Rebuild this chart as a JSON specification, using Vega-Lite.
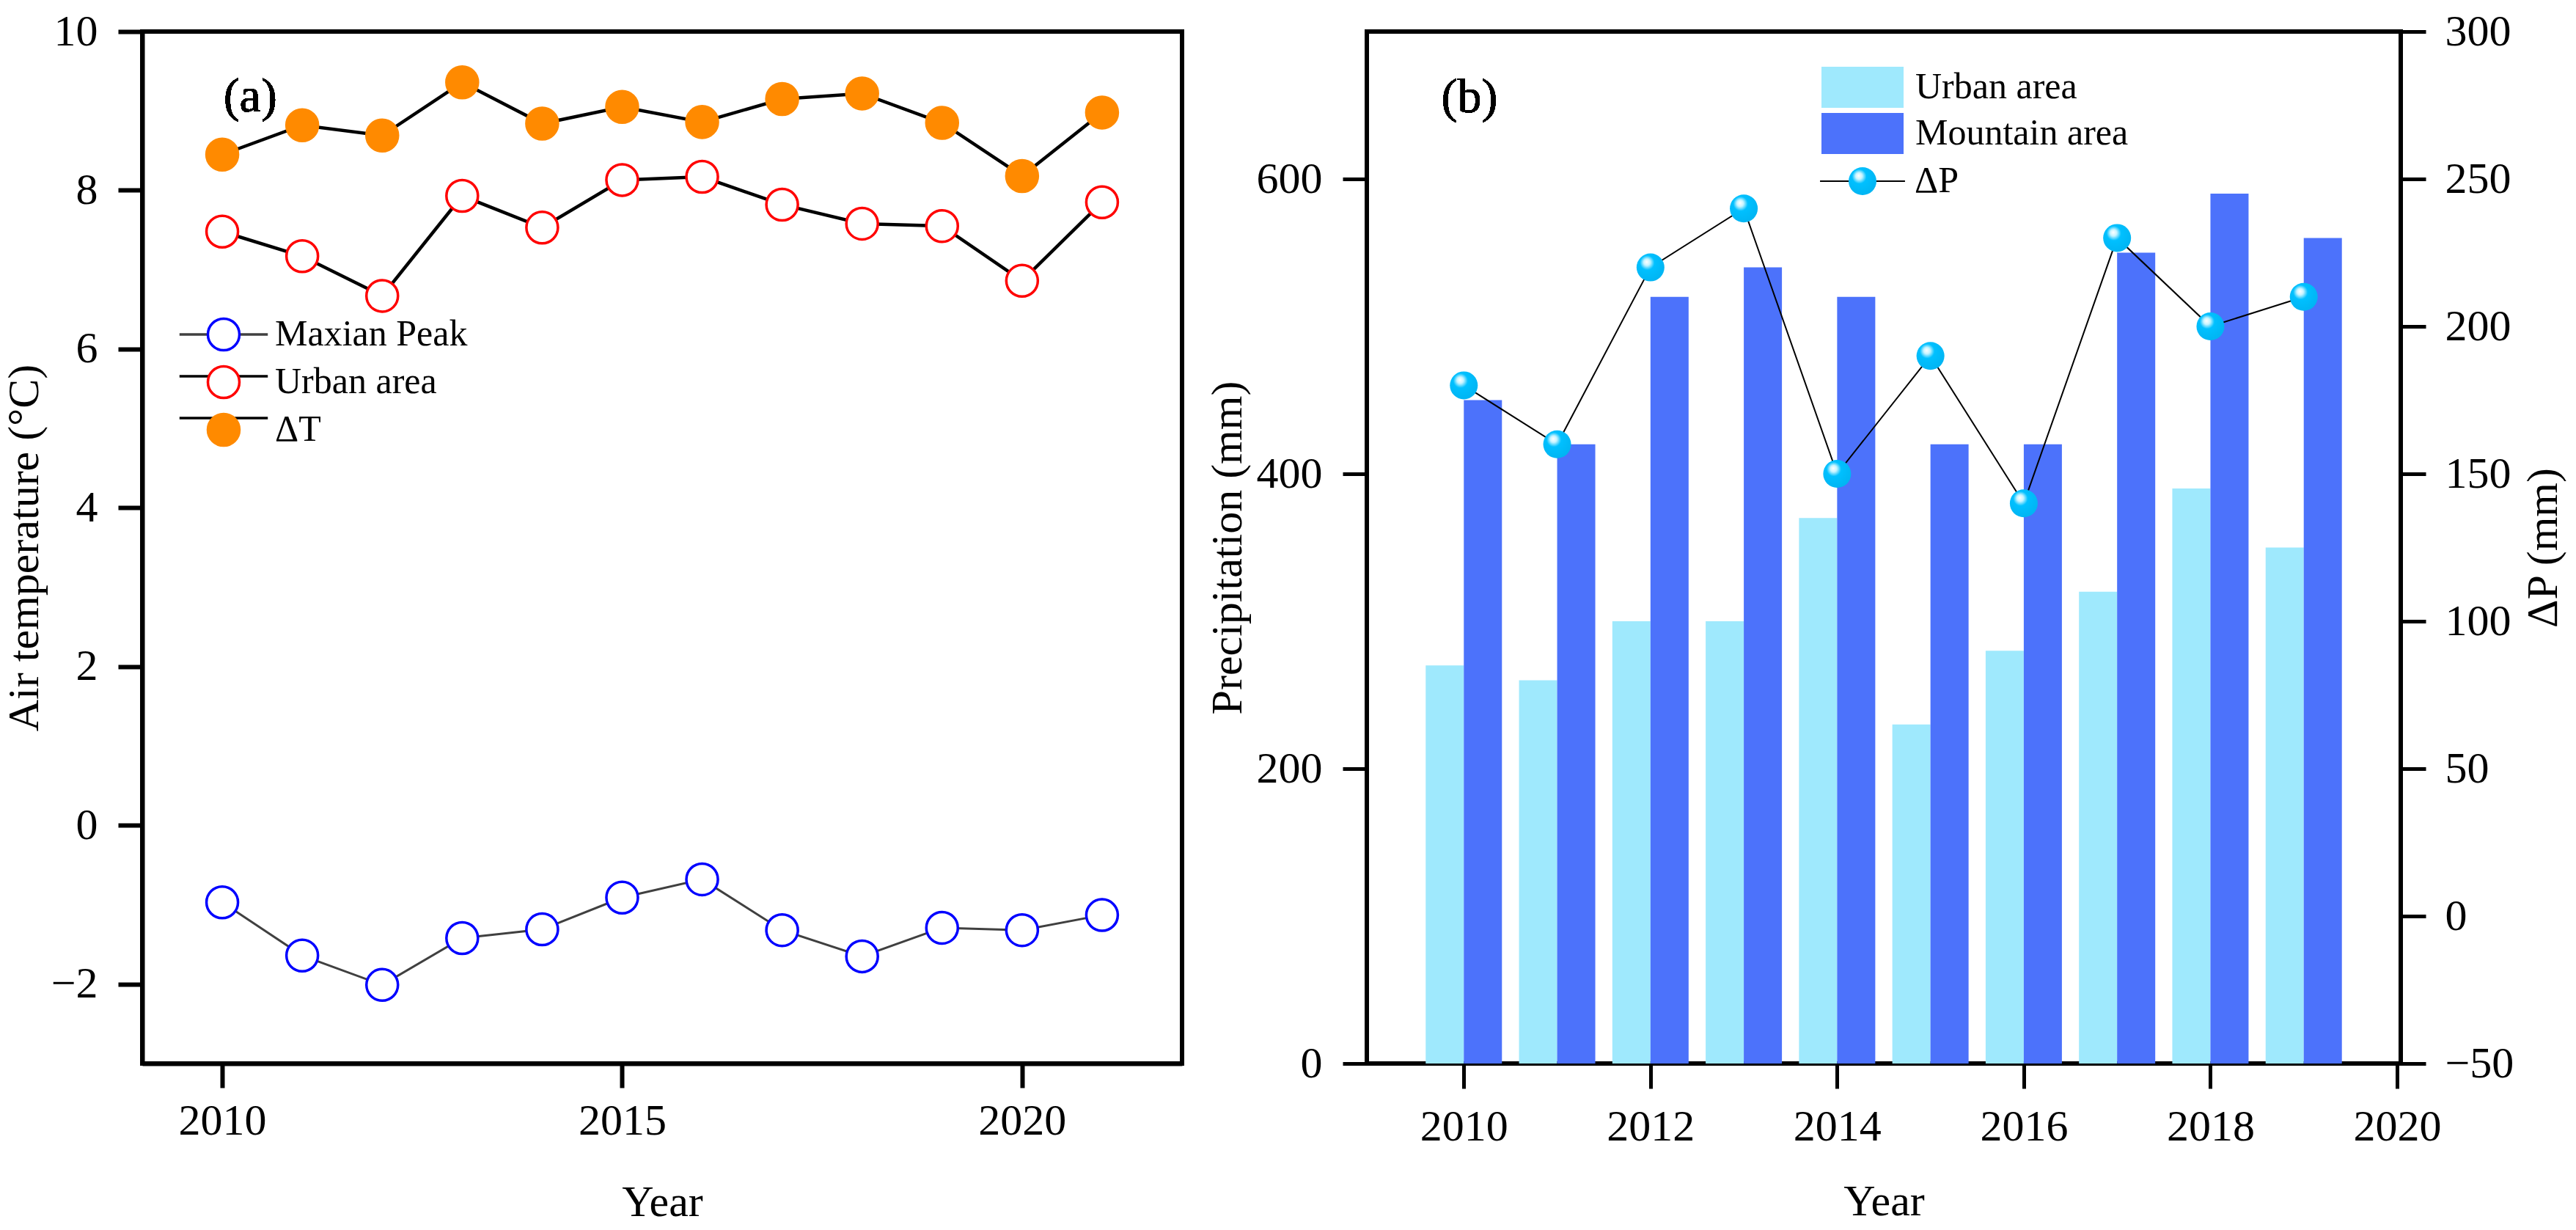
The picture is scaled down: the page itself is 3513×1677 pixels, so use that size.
{
  "$schema": "https://vega.github.io/schema/vega-lite/v6.json",
  "background": "white",
  "padding": {"left": 0, "top": 10, "right": 10, "bottom": 5},
  "spacing": 26,
  "config": {
    "font": "Liberation Serif",
    "view": {"stroke": "black", "strokeWidth": 6},
    "axis": {
      "grid": false, "domainColor": "black", "domainWidth": 6, "tickColor": "black", "tickWidth": 6, "tickSize": 33,
      "labelFont": "Liberation Serif", "labelFontSize": 60, "labelColor": "black", "labelPadding": 28,
      "titleFont": "Liberation Serif", "titleFontSize": 60, "titleFontWeight": "normal", "titleColor": "black",
      "labelFlush": false, "labelOverlap": false
    },
    "legend": {"labelFont": "Liberation Serif", "labelFontSize": 50, "labelColor": "black", "padding": 0, "labelLimit": 0}
  },
  "datasets": {
    "temp": [
      {"year": 2010, "series": "Maxian Peak", "value": -0.97},
      {"year": 2011, "series": "Maxian Peak", "value": -1.64},
      {"year": 2012, "series": "Maxian Peak", "value": -2.01},
      {"year": 2013, "series": "Maxian Peak", "value": -1.42},
      {"year": 2014, "series": "Maxian Peak", "value": -1.31},
      {"year": 2015, "series": "Maxian Peak", "value": -0.91},
      {"year": 2016, "series": "Maxian Peak", "value": -0.68},
      {"year": 2017, "series": "Maxian Peak", "value": -1.32},
      {"year": 2018, "series": "Maxian Peak", "value": -1.65},
      {"year": 2019, "series": "Maxian Peak", "value": -1.29},
      {"year": 2020, "series": "Maxian Peak", "value": -1.32},
      {"year": 2021, "series": "Maxian Peak", "value": -1.13},
      {"year": 2010, "series": "Urban area", "value": 7.48},
      {"year": 2011, "series": "Urban area", "value": 7.17},
      {"year": 2012, "series": "Urban area", "value": 6.67},
      {"year": 2013, "series": "Urban area", "value": 7.93},
      {"year": 2014, "series": "Urban area", "value": 7.53},
      {"year": 2015, "series": "Urban area", "value": 8.13},
      {"year": 2016, "series": "Urban area", "value": 8.17},
      {"year": 2017, "series": "Urban area", "value": 7.82},
      {"year": 2018, "series": "Urban area", "value": 7.58},
      {"year": 2019, "series": "Urban area", "value": 7.55},
      {"year": 2020, "series": "Urban area", "value": 6.86},
      {"year": 2021, "series": "Urban area", "value": 7.85},
      {"year": 2010, "series": "ΔT", "value": 8.45},
      {"year": 2011, "series": "ΔT", "value": 8.82},
      {"year": 2012, "series": "ΔT", "value": 8.69},
      {"year": 2013, "series": "ΔT", "value": 9.36},
      {"year": 2014, "series": "ΔT", "value": 8.84},
      {"year": 2015, "series": "ΔT", "value": 9.05},
      {"year": 2016, "series": "ΔT", "value": 8.86},
      {"year": 2017, "series": "ΔT", "value": 9.15},
      {"year": 2018, "series": "ΔT", "value": 9.22},
      {"year": 2019, "series": "ΔT", "value": 8.85},
      {"year": 2020, "series": "ΔT", "value": 8.18},
      {"year": 2021, "series": "ΔT", "value": 8.98}
    ],
    "precip": [
      {"year": 2010, "series": "Urban area", "value": 270},
      {"year": 2011, "series": "Urban area", "value": 260},
      {"year": 2012, "series": "Urban area", "value": 300},
      {"year": 2013, "series": "Urban area", "value": 300},
      {"year": 2014, "series": "Urban area", "value": 370},
      {"year": 2015, "series": "Urban area", "value": 230},
      {"year": 2016, "series": "Urban area", "value": 280},
      {"year": 2017, "series": "Urban area", "value": 320},
      {"year": 2018, "series": "Urban area", "value": 390},
      {"year": 2019, "series": "Urban area", "value": 350},
      {"year": 2010, "series": "Mountain area", "value": 450},
      {"year": 2011, "series": "Mountain area", "value": 420},
      {"year": 2012, "series": "Mountain area", "value": 520},
      {"year": 2013, "series": "Mountain area", "value": 540},
      {"year": 2014, "series": "Mountain area", "value": 520},
      {"year": 2015, "series": "Mountain area", "value": 420},
      {"year": 2016, "series": "Mountain area", "value": 420},
      {"year": 2017, "series": "Mountain area", "value": 550},
      {"year": 2018, "series": "Mountain area", "value": 590},
      {"year": 2019, "series": "Mountain area", "value": 560}
    ],
    "dp": [
      {"year": 2010, "series": "ΔP", "value": 180},
      {"year": 2011, "series": "ΔP", "value": 160},
      {"year": 2012, "series": "ΔP", "value": 220},
      {"year": 2013, "series": "ΔP", "value": 240},
      {"year": 2014, "series": "ΔP", "value": 150},
      {"year": 2015, "series": "ΔP", "value": 190},
      {"year": 2016, "series": "ΔP", "value": 140},
      {"year": 2017, "series": "ΔP", "value": 230},
      {"year": 2018, "series": "ΔP", "value": 200},
      {"year": 2019, "series": "ΔP", "value": 210}
    ]
  },
  "resolve": {
    "scale": {"color": "independent", "fill": "independent", "stroke": "independent", "shape": "independent"},
    "legend": {"color": "independent", "fill": "independent", "stroke": "independent", "shape": "independent"}
  },
  "hconcat": [
    {
      "width": 1418,
      "height": 1407,
      "data": {"name": "temp"},
      "encoding": {
        "x": {"field": "year", "type": "quantitative", "scale": {"domain": [2009, 2022], "nice": false, "zero": false},
              "axis": {"title": "Year", "values": [2010, 2015, 2020], "format": "d", "labelPadding": 16, "titlePadding": 52}},
        "y": {"field": "value", "type": "quantitative", "scale": {"domain": [-3, 10], "nice": false, "zero": false},
              "axis": {"title": "Air temperature (°C)", "values": [-2, 0, 2, 4, 6, 8, 10], "titlePadding": 5}}
      },
      "layer": [
        {
          "transform": [{"filter": "datum.series === 'Maxian Peak'"}],
          "mark": {"type": "line", "strokeWidth": 3, "opacity": 1},
          "encoding": {
            "color": {"field": "series", "type": "nominal", "scale": {"range": ["#404040", "black", "black"]},
                      "legend": {"title": null, "orient": "none", "legendX": 86, "legendY": 388, "symbolType": "M-2.8,0H2.8",
                                 "symbolSize": 1850, "symbolStrokeWidth": 3.5, "labelOffset": 45, "rowPadding": 7, "labelExpr": "' '"}}
          }
        },
        {
          "transform": [{"filter": "datum.series !== 'Maxian Peak'"}],
          "mark": {"type": "line", "strokeWidth": 4.5, "opacity": 1},
          "encoding": {
            "color": {"field": "series", "type": "nominal"}
          }
        },
        {
          "mark": {"type": "point", "shape": "circle", "size": 1850, "strokeWidth": 3.5, "opacity": 1},
          "encoding": {
            "stroke": {"field": "series", "type": "nominal",
                       "scale": {"domain": ["Maxian Peak", "Urban area", "ΔT"], "range": ["#0000ff", "#ff0000", "#ff8a00"]},
                       "legend": {"title": null, "orient": "none", "legendX": 86, "legendY": 388, "symbolType": "circle",
                                  "symbolSize": 1850, "symbolStrokeWidth": 3.5, "labelOffset": 45, "rowPadding": 7}},
            "fill": {"field": "series", "type": "nominal",
                     "scale": {"domain": ["Maxian Peak", "Urban area", "ΔT"], "range": ["white", "white", "#ff8a00"]},
                     "legend": {"title": null, "orient": "none", "legendX": 86, "legendY": 388, "symbolType": "circle",
                                "symbolSize": 1850, "symbolStrokeWidth": 3.5, "labelOffset": 45, "rowPadding": 7}}
          }
        },
        {
          "mark": {"type": "text", "fontSize": 66, "font": "Liberation Serif", "color": "black"},
          "encoding": {
            "x": {"datum": 2010.35},
            "y": {"datum": 9.18},
            "text": {"value": "(a)"}
          }
        }
      ]
    },
    {
      "width": 1410,
      "height": 1407,
      "layer": [
        {
          "data": {"name": "precip"},
          "encoding": {
            "x": {"field": "year", "type": "quantitative", "scale": {"domain": [2009, 2020], "nice": false, "zero": false},
                  "axis": {"title": "Year", "values": [2010, 2012, 2014, 2016, 2018, 2020], "format": "d", "labelPadding": 23, "titlePadding": 43, "domainWidth": 5, "tickWidth": 5, "tickSize": 34}},
            "y": {"field": "value", "type": "quantitative", "scale": {"domain": [0, 700], "nice": false},
                  "axis": {"title": "Precipitation (mm)", "values": [0, 200, 400, 600], "titlePadding": 8, "domainWidth": 5, "tickWidth": 5}}
          },
          "layer": [
            {
              "transform": [{"filter": "datum.series === 'Urban area'"}],
              "mark": {"type": "bar", "width": 52, "xOffset": -26, "opacity": 1},
              "encoding": {
                "fill": {"field": "series", "type": "nominal",
                         "scale": {"domain": ["Urban area", "Mountain area"], "range": ["#9fe9fd", "#4c72fb"]},
                         "legend": {"title": null, "orient": "none", "legendX": 648, "legendY": 48,
                                    "symbolType": "M-2,-1H2V1H-2Z", "symbolSize": 3136, "symbolStrokeWidth": 0,
                                    "labelOffset": 44, "rowPadding": 7, "symbolOpacity": 1}}
              }
            },
            {
              "transform": [{"filter": "datum.series === 'Mountain area'"}],
              "mark": {"type": "bar", "width": 52, "xOffset": 26, "opacity": 1},
              "encoding": {
                "fill": {"field": "series", "type": "nominal"}
              }
            },
            {
              "mark": {"type": "text", "fontSize": 66, "font": "Liberation Serif", "color": "black"},
              "encoding": {
                "x": {"datum": 2010.06},
                "y": {"datum": 655.2},
                "text": {"value": "(b)"}
              }
            }
          ]
        },
        {
          "data": {"name": "dp"},
          "encoding": {
            "x": {"field": "year", "type": "quantitative"},
            "y": {"field": "value", "type": "quantitative", "scale": {"domain": [-50, 300], "nice": false, "zero": false},
                  "axis": {"title": "ΔP (mm)", "orient": "right", "values": [-50, 0, 50, 100, 150, 200, 250, 300],
                           "titlePadding": 12, "titleAngle": -90, "titleBaseline": "top", "domainWidth": 5, "tickWidth": 5, "tickSize": 34, "labelPadding": 26}}
          },
          "layer": [
            {
              "mark": {"type": "line", "strokeWidth": 2, "opacity": 1},
              "encoding": {
                "stroke": {"field": "series", "type": "nominal", "scale": {"domain": ["ΔP"], "range": ["black"]},
                           "legend": {"title": null, "orient": "none", "legendX": 651, "legendY": 179, "symbolType": "M-3.05,0H3.05",
                                      "symbolSize": 1444, "symbolStrokeWidth": 2, "labelOffset": 46, "labelExpr": "' '"}}
              }
            },
            {
              "mark": {"type": "point", "shape": "circle", "size": 1444, "filled": true, "opacity": 1, "strokeWidth": 0,
                       "fill": {"gradient": "radial", "x1": 0.36, "y1": 0.3, "r1": 0, "x2": 0.42, "y2": 0.38, "r2": 0.65,
                                "stops": [{"offset": 0, "color": "#ffffff"}, {"offset": 0.18, "color": "#c8f4ff"}, {"offset": 0.4, "color": "#00c0ff"}, {"offset": 1, "color": "#00b4f2"}]}},
              "encoding": {
                "shape": {"field": "series", "type": "nominal", "scale": {"range": ["circle"]},
                          "legend": {"title": null, "orient": "none", "legendX": 651, "legendY": 179, "symbolType": "circle",
                                     "symbolSize": 1444, "symbolStrokeWidth": 0, "labelOffset": 46, "symbolOpacity": 1,
                                     "symbolFillColor": "#00bfff",
                                     "encode": {"symbols": {"update": {"fill": {"value": {"gradient": "radial", "x1": 0.36, "y1": 0.3, "r1": 0, "x2": 0.42, "y2": 0.38, "r2": 0.65,
                                "stops": [{"offset": 0, "color": "#ffffff"}, {"offset": 0.18, "color": "#c8f4ff"}, {"offset": 0.4, "color": "#00c0ff"}, {"offset": 1, "color": "#00b4f2"}]}}, "stroke": {"value": "transparent"}}}}}}
              }
            }
          ]
        }
      ],
      "resolve": {"scale": {"y": "independent"}}
    }
  ]
}
